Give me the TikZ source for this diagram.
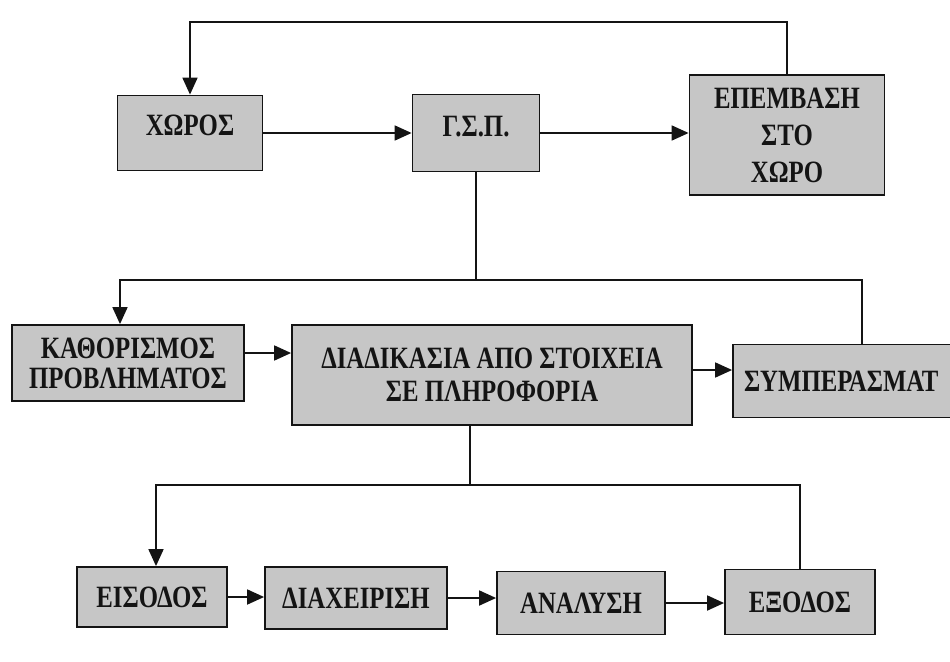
\documentclass[tikz,border=0pt]{standalone}
\usepackage{fontspec}
\newfontfamily\boxfont{Liberation Serif}[FakeStretch=0.8]
\usetikzlibrary{arrows.meta}
\definecolor{ink}{HTML}{141414}
\definecolor{shade}{HTML}{C6C6C6}

\begin{document}
\begin{tikzpicture}[x=1pt,y=-1pt,
    blk/.style={draw=ink,line width=1.8pt,fill=shade,inner sep=0pt,align=center,
                font=\boxfont\bfseries\fontsize{31}{37}\selectfont,text=ink},
    wire/.style={draw=ink,line width=1.8pt},
    flow/.style={wire,-{Triangle[length=17pt,width=15pt]}}]
  \useasboundingbox (0,0) rectangle (950,661);
  \clip (0,0) rectangle (950,661);
  \node[blk,minimum width=145pt,minimum height=75pt,text depth=16pt] (xoros) at (190,133) {ΧΩΡΟΣ};
  \node[blk,minimum width=127pt,minimum height=77pt,text depth=14pt] (gsp) at (476,133) {Γ.Σ.Π.};
  \node[blk,minimum width=195pt,minimum height=120pt] (epem) at (787,135) {ΕΠΕΜΒΑΣΗ\\ΣΤΟ\\ΧΩΡΟ};
  \node[blk,minimum width=232pt,minimum height=76pt] (kath) at (128,363) {ΚΑΘΟΡΙΣΜΟΣ\\[-7pt]ΠΡΟΒΛΗΜΑΤΟΣ};
  \node[blk,minimum width=400pt,minimum height=100pt] (diad) at (492,375) {ΔΙΑΔΙΚΑΣΙΑ ΑΠΟ ΣΤΟΙΧΕΙΑ\\[-4pt]ΣΕ ΠΛΗΡΟΦΟΡΙΑ};
  \node[blk,minimum width=258pt,minimum height=73pt,text width=236pt,align=left] (symp) at (862,381) {ΣΥΜΠΕΡΑΣΜΑΤ};
  \node[blk,minimum width=150pt,minimum height=60pt] (eis) at (152,597) {ΕΙΣΟΔΟΣ};
  \node[blk,minimum width=182pt,minimum height=62pt] (diax) at (356,598) {ΔΙΑΧΕΙΡΙΣΗ};
  \node[blk,minimum width=168pt,minimum height=63pt] (anal) at (581,603) {ΑΝΑΛΥΣΗ};
  \node[blk,minimum width=150pt,minimum height=65pt] (exod) at (800,602) {ΕΞΟΔΟΣ};
  \coordinate (back) at (787,22);
  \coordinate (split1) at (476,280);
  \coordinate (split2) at (470,485);
  \draw[flow] (epem.north) -- (back) -| (xoros.north);
  \draw[flow] (xoros.east) -- (xoros.east -| gsp.west);
  \draw[flow] (gsp.east) -- (gsp.east -| epem.west);
  \draw[wire] (gsp.south) -- (split1);
  \draw[flow] (split1) -| ([xshift=-8pt]kath.north);
  \draw[wire] (split1) -| (symp.north);
  \draw[flow] ([yshift=10pt]kath.east) -- ([yshift=10pt]kath.east -| diad.west);
  \draw[flow] ([yshift=5pt]diad.east) -- ([yshift=5pt]diad.east -| symp.west);
  \draw[wire] (split2 |- diad.south) -- (split2);
  \draw[flow] (split2) -| ([xshift=4pt]eis.north);
  \draw[wire] (split2) -| (exod.north);
  \draw[flow] (eis.east) -- (eis.east -| diax.west);
  \draw[flow] (diax.east) -- (diax.east -| anal.west);
  \draw[flow] (anal.east) -- (anal.east -| exod.west);
\end{tikzpicture}
\end{document}
